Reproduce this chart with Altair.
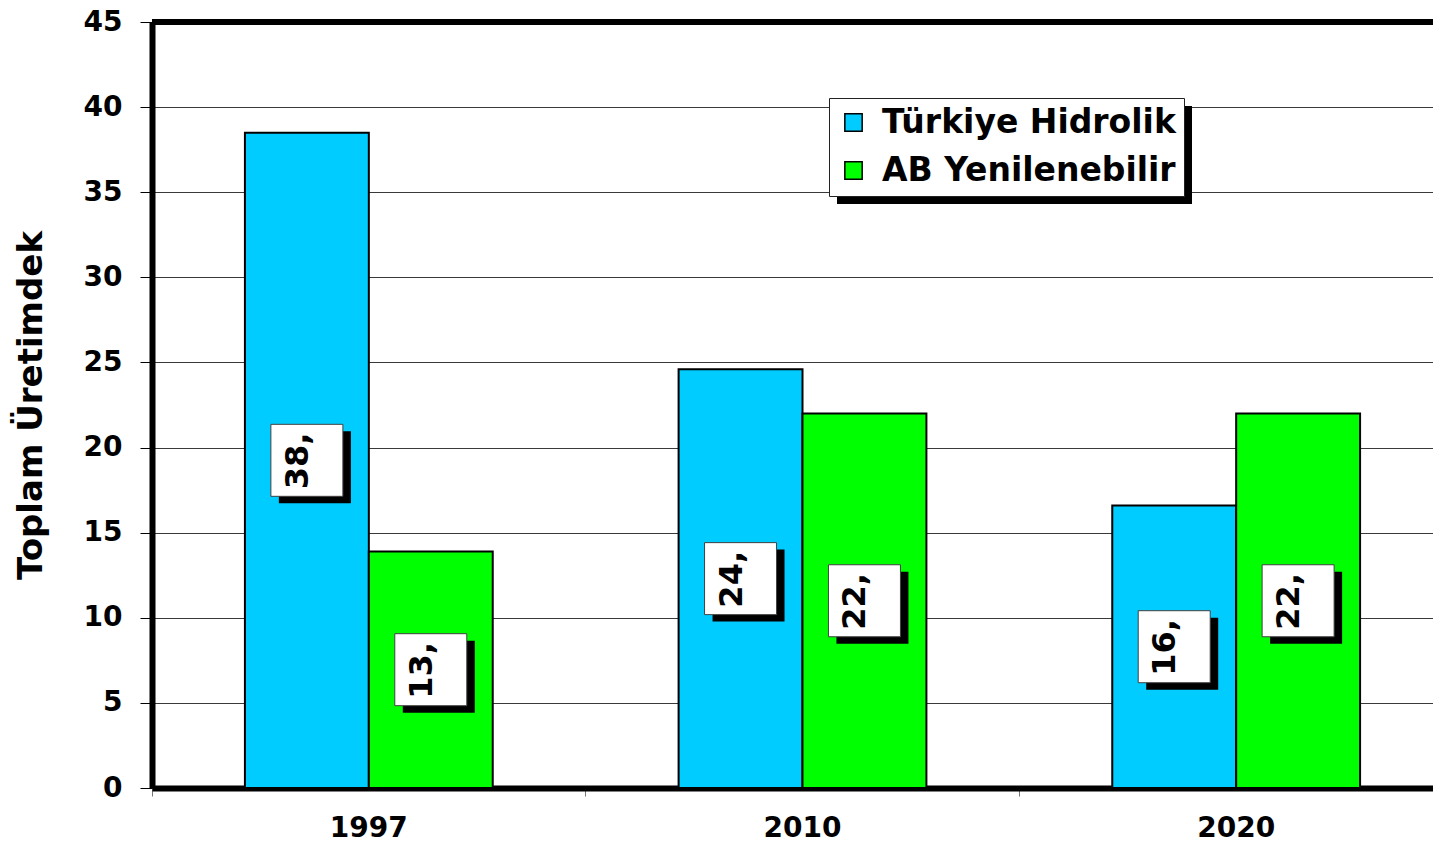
import altair as alt
import pandas as pd

years = ["1997", "2010", "2020"]
series = ["Türkiye Hidrolik", "AB Yenilenebilir"]
turkiye_hidrolik = [38.5, 24.6, 16.6]
ab_yenilenebilir = [13.9, 22.0, 22.0]
colors = ["#00CCFF", "#00FF00"]
y_ticks = [0, 5, 10, 15, 20, 25, 30, 35, 40, 45]
y_title = "Toplam Üretimdek"

rows = []
for i, yr in enumerate(years):
    for s, vals in zip(series, [turkiye_hidrolik, ab_yenilenebilir]):
        v = vals[i]
        rows.append({"year": yr, "series": s, "value": v,
                     "label": f"{v:.1f}".replace(".", ",")})
df = pd.DataFrame(rows)

FONT = "DejaVu Sans"
W, H = 1281, 766
XRANGE = 1301

x_enc = alt.X(
    "year:N", sort=years,
    scale=alt.Scale(domain=years, range=[0, XRANGE], paddingInner=0, paddingOuter=0),
    axis=alt.Axis(title=None, labelAngle=0, labelFont=FONT, labelFontSize=28,
                  labelFontWeight="bold", labelColor="black", domainColor="black",
                  domainWidth=6, tickColor="#777777", tickSize=8, tickWidth=1,
                  bandPosition=0, labelPadding=18, grid=False),
)
xo_enc = alt.XOffset("series:N", sort=series,
                     scale=alt.Scale(domain=series, paddingInner=0, paddingOuter=0.75))

y_scale = alt.Scale(domain=[0, 45], nice=False, zero=True)
y_axis = alt.Axis(values=y_ticks, title=y_title, titleFont=FONT, titleFontSize=34,
                  titleFontWeight="bold", titleColor="black", titlePadding=35,
                  labelFont=FONT, labelFontSize=28, labelFontWeight="bold",
                  labelColor="black", labelPadding=18, grid=True,
                  gridColor="#3a3a3a", gridWidth=1, domainColor="black",
                  domainWidth=6, tickColor="black", tickSize=12, tickWidth=1)

bars = alt.Chart(df).mark_bar(stroke="black", strokeWidth=2, opacity=1).encode(
    x=x_enc,
    xOffset=xo_enc,
    y=alt.Y("value:Q", scale=y_scale, axis=y_axis),
    color=alt.Color("series:N", sort=series,
                    scale=alt.Scale(domain=series, range=colors),
                    legend=alt.Legend(title=None, orient="none", legendX=677, legendY=76,
                                      fillColor="white", strokeColor="#222222",
                                      padding=8, rowPadding=14,
                                      labelFont=FONT, labelFontSize=33,
                                      labelFontWeight="bold", labelColor="black",
                                      labelOffset=12, labelLimit=600,
                                      symbolType="square", symbolSize=300,
                                      symbolStrokeColor="black", symbolStrokeWidth=1.5,
                                      symbolOpacity=1)),
)

top_rule = alt.Chart(pd.DataFrame({"a": [0]})).mark_rule(
    color="black", strokeWidth=6
).encode(y=alt.datum(45, scale=y_scale, axis=y_axis))

legend_shadow = alt.Chart(pd.DataFrame({"a": [0]})).mark_rect(
    color="black", opacity=1
).encode(x=alt.value(685), x2=alt.value(1040), y=alt.value(84), y2=alt.value(182))

lab = alt.Chart(df).transform_calculate(mid="datum.value / 2")
y_mid = alt.Y("mid:Q", scale=y_scale, axis=y_axis)

shadow_path = "M-0.778,-0.806H1.222V1.194H-0.778Z"
box_shadow = lab.mark_point(shape=shadow_path, size=5184, filled=True, fill="black",
                            opacity=1, strokeWidth=0).encode(x=x_enc, xOffset=xo_enc, y=y_mid)
box = lab.mark_point(shape="square", size=5184, filled=True, fill="white",
                     stroke="#404040", strokeWidth=1, opacity=1).encode(
    x=x_enc, xOffset=xo_enc, y=y_mid)
text = lab.mark_text(angle=270, align="left", baseline="middle", dx=-29, dy=-9,
                     font=FONT, fontSize=32, fontWeight="bold", color="black",
                     limit=66, ellipsis="\u200b").encode(
    x=x_enc, xOffset=xo_enc, y=y_mid, text="label:N")

chart = alt.layer(bars, top_rule, legend_shadow, box_shadow, box, text).properties(
    width=W, height=H,
    autosize=alt.AutoSizeParams(type="none"),
    padding={"left": 144, "top": 14, "right": 0, "bottom": 56},
    background="white",
).configure_view(stroke=None)

chart.save("out.html", embed_options={"renderer": "svg", "actions": False})
